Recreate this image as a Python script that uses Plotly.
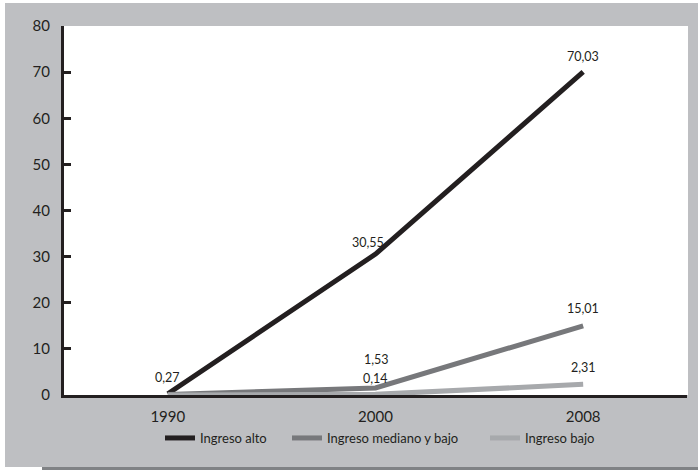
import plotly.graph_objects as go

years = ["1990", "2000", "2008"]
series_names = ["Ingreso alto", "Ingreso mediano y bajo", "Ingreso bajo"]
alto = [0.27, 30.55, 70.03]
mediano = [0.10, 1.53, 15.01]
bajo = [0.02, 0.14, 2.31]
alto_labels = ["0,27", "30,55", "70,03"]
mediano_labels = ["", "1,53", "15,01"]
bajo_labels = ["", "0,14", "2,31"]
y_ticks = [0, 10, 20, 30, 40, 50, 60, 70, 80]

colors = ["#231f20", "#77787b", "#a7a9ac"]
# label pixel offsets (x, y) per series / point
offsets = [
    [(0, 16), (-8, 12), (0, 15)],
    [(0, 0), (1, 28), (0, 17)],
    [(0, 0), (0, 16), (0, 17)],
]
legend_text_px = [200, 327, 525]

W, H = 698, 470
L, R, T, B = 64, 11, 26, 75
pw, ph = W - L - R, H - T - B


def px(x):
    return (x - L) / pw


def py(y):
    return (H - B - y) / ph


font_family = "Lato, 'Open Sans', sans-serif"
text_color = "#231f20"

fig = go.Figure()
all_vals = [alto, mediano, bajo]
all_labels = [alto_labels, mediano_labels, bajo_labels]
legend_ids = ["legend", "legend2", "legend3"]
for name, vals, col, lid in zip(series_names, all_vals, colors, legend_ids):
    fig.add_trace(go.Scatter(
        x=years, y=vals, name=name, mode="lines",
        line=dict(color=col, width=5), legend=lid,
    ))

annotations = []
for si, (vals, labs) in enumerate(zip(all_vals, all_labels)):
    for i, (v, lab) in enumerate(zip(vals, labs)):
        if not lab:
            continue
        dx, dy = offsets[si][i]
        annotations.append(dict(
            x=i, y=v, xref="x", yref="y", text=lab, showarrow=False,
            xshift=dx, yshift=dy, borderpad=0,
            font=dict(family=font_family, size=12.5, color=text_color),
        ))

shapes = [
    dict(type="rect", xref="paper", yref="paper", layer="below",
         x0=px(5), x1=px(W + 5), y0=py(467), y1=py(3),
         fillcolor="#bebfc2", line=dict(width=0)),
    dict(type="rect", xref="paper", yref="paper", layer="below",
         x0=px(42), x1=px(W + 5), y0=py(H + 5), y1=py(467),
         fillcolor="#808285", line=dict(width=0)),
    dict(type="rect", xref="paper", yref="paper", layer="below",
         x0=0, x1=px(688), y0=0, y1=1,
         fillcolor="white", line=dict(width=0)),
]

legend_style = dict(orientation="h", yanchor="middle", xanchor="left",
                    bgcolor="rgba(0,0,0,0)",
                    font=dict(size=13, color=text_color, family=font_family))
legends = {}
for lid, tx in zip(legend_ids, legend_text_px):
    legends[lid] = dict(legend_style, x=px(tx - 40), y=py(438))

fig.update_layout(
    width=W, height=H,
    margin=dict(l=L, r=R, t=T, b=B),
    paper_bgcolor="white",
    plot_bgcolor="rgba(0,0,0,0)",
    font=dict(family=font_family, color=text_color),
    showlegend=True,
    annotations=annotations,
    shapes=shapes,
    xaxis=dict(
        type="category", range=[-0.5, 2.5], showgrid=False, zeroline=False,
        showline=True, linecolor="#231f20", linewidth=3, ticks="",
        tickfont=dict(size=15, color=text_color), ticklabelstandoff=6,
    ),
    yaxis=dict(
        range=[0, 80], tickvals=y_ticks, showgrid=False, zeroline=False,
        showline=True, linecolor="#231f20", linewidth=3,
        ticks="inside", ticklen=7, tickwidth=2.5, tickcolor="#231f20",
        tickfont=dict(size=15, color=text_color), ticklabelstandoff=8,
    ),
    **legends,
)

fig.write_html("out.html",
               config={"displayModeBar": False},
               post_script="document.body.style.margin='0';"
                           "document.body.style.padding='0';")
